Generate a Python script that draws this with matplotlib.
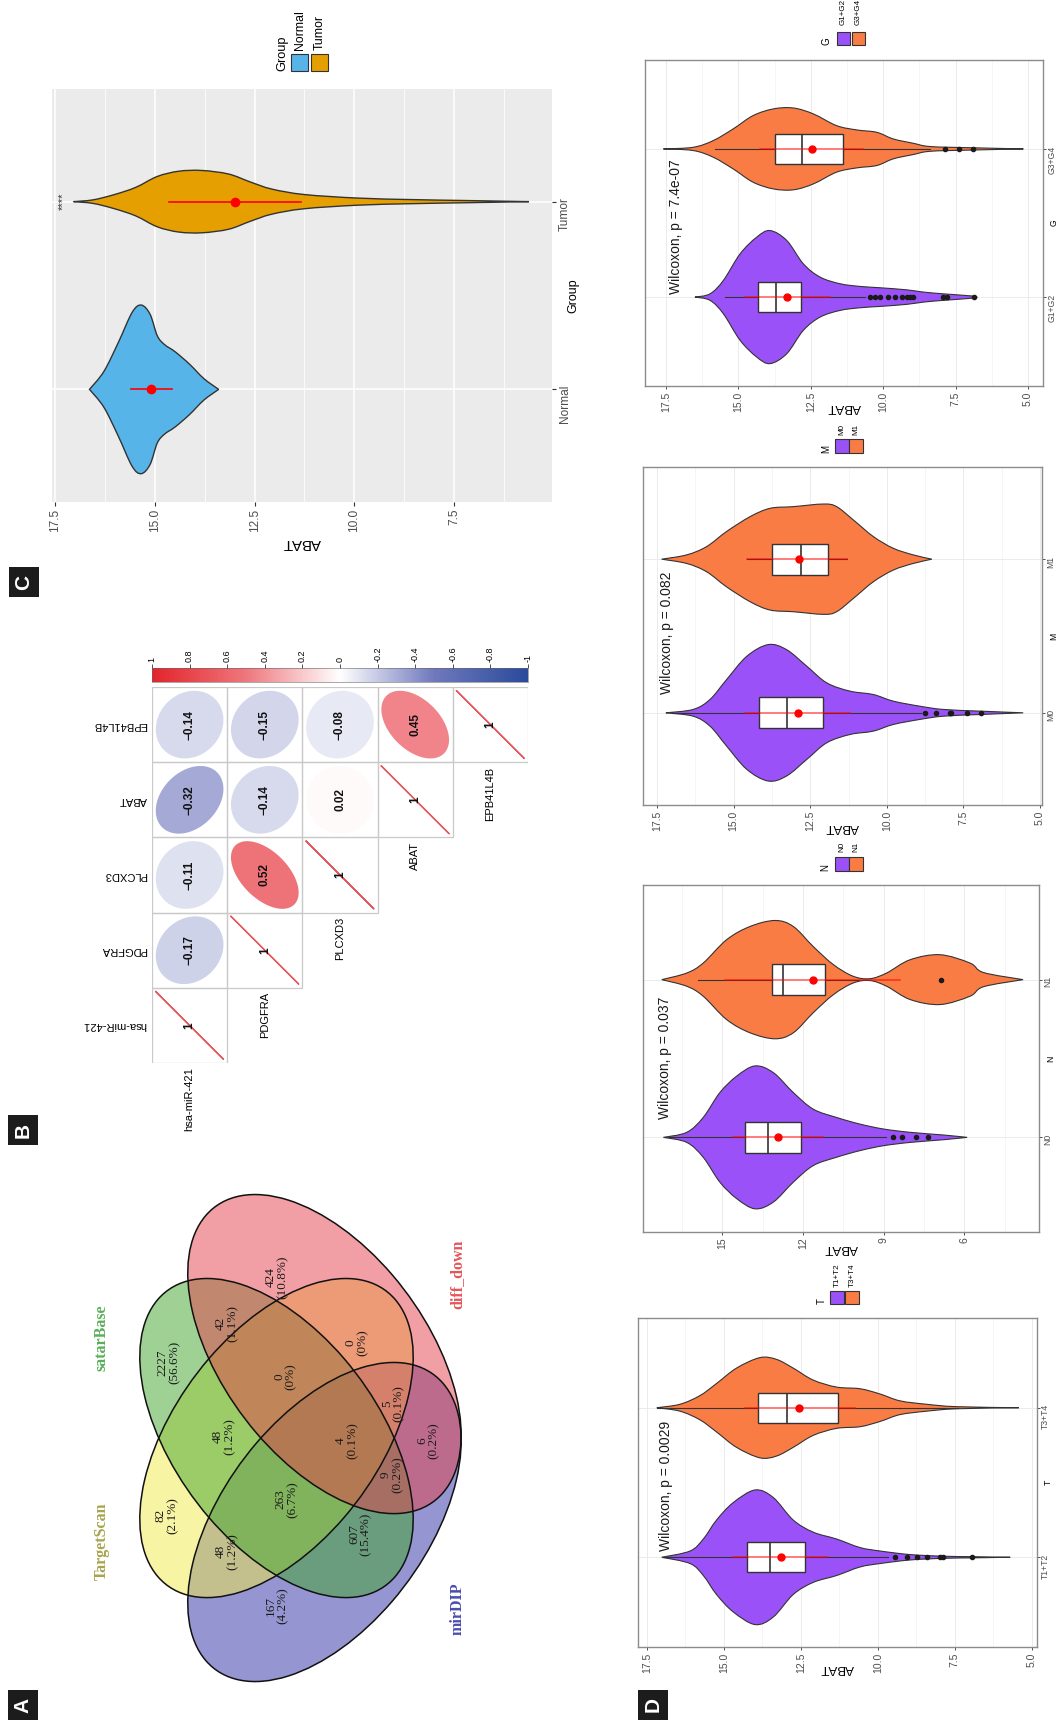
import numpy as np
import matplotlib.pyplot as plt
from matplotlib.patches import Ellipse, Rectangle, PathPatch
from matplotlib.path import Path
from matplotlib.colors import LinearSegmentedColormap, Normalize
from matplotlib.cm import ScalarMappable

plt.rcParams['font.family'] = ['Liberation Sans', 'DejaVu Sans']
SERIF = ['Liberation Serif', 'DejaVu Serif']

# ---------------- data ----------------
# A: venn
venn_names = ['TargetScan', 'satarBase', 'mirDIP', 'diff_down']
venn_counts = [167, 82, 48, 263, 607, 9, 6, 4, 5, 48, 0, 0, 2227, 42, 424]

# B: correlation matrix
genes = ['hsa-miR-421', 'PDGFRA', 'PLCXD3', 'ABAT', 'EPB41L4B']
corr = [[1.00, -0.17, -0.11, -0.32, -0.14],
        [-0.17, 1.00, 0.52, -0.14, -0.15],
        [-0.11, 0.52, 1.00, 0.02, -0.08],
        [-0.32, -0.14, 0.02, 1.00, 0.45],
        [-0.14, -0.15, -0.08, 0.45, 1.00]]

# C: ABAT normal vs tumor (violin outline: value, half width)
c_groups = ['Normal', 'Tumor']
c_normal_v = [16.64, 16.28, 15.92, 15.57, 15.34, 15.12, 14.94, 14.76, 14.49, 14.13, 13.77, 13.40]
c_normal_w = [0, 0.095, 0.248, 0.41, 0.449, 0.40, 0.286, 0.239, 0.20, 0.134, 0.057, 0]
c_tumor_v = [17.04, 16.55, 16.01, 15.48, 14.94, 14.40, 13.82, 13.15, 12.61, 12.07, 11.26, 9.92, 8.58, 7.23, 5.62]
c_tumor_w = [0, 0.0095, 0.038, 0.076, 0.134, 0.162, 0.166, 0.147, 0.105, 0.067, 0.038, 0.019, 0.011, 0.006, 0]
c_mean = [15.09, 12.99]
c_sd_lo = [14.58, 11.33]
c_sd_hi = [15.61, 14.64]
c_signif = '****'

# D: clinical subgroups
t_groups = ['T1+T2', 'T3+T4']
t_v = [[17.02, 16.10, 15.67, 15.24, 14.70, 13.99, 13.40, 12.75, 12.10, 11.34, 10.58, 9.93, 8.95, 7.87, 6.95, 5.70],
       [17.18, 16.43, 15.78, 15.24, 14.59, 13.83, 13.29, 12.75, 12.10, 11.34, 10.58, 9.93, 9.28, 8.41, 7.44, 5.42]]
t_w = [[0, 0.042, 0.122, 0.249, 0.365, 0.45, 0.40, 0.249, 0.168, 0.122, 0.065, 0.042, 0.018, 0.007, 0.004, 0],
       [0, 0.023, 0.081, 0.162, 0.265, 0.335, 0.323, 0.265, 0.185, 0.138, 0.127, 0.092, 0.046, 0.023, 0.007, 0]]
t_q1 = [12.37, 11.28]
t_med = [13.50, 12.96]
t_q3 = [14.26, 13.88]
t_whislo = [9.66, 7.40]
t_whishi = [17.02, 17.18]
t_out = [[9.44, 9.06, 8.74, 8.41, 7.98, 7.87, 6.95], []]
t_mean = [13.15, 12.55]
t_sd_lo = [11.61, 10.74]
t_sd_hi = [14.70, 14.32]
t_p = 'Wilcoxon, p = 0.0029'

n_groups = ['N0', 'N1']
n_v = [[17.19, 16.32, 15.71, 15.09, 14.46, 13.78, 13.10, 12.36, 11.62, 10.75, 9.88, 9.01, 8.02, 6.78, 5.90],
       [17.25, 16.32, 15.71, 14.84, 13.97, 13.04, 12.36, 11.62, 10.87, 10.13, 9.51, 8.89, 8.02, 6.91, 5.79, 5.29, 3.82]]
n_w = [[0, 0.032, 0.126, 0.284, 0.389, 0.453, 0.41, 0.284, 0.179, 0.126, 0.084, 0.053, 0.032, 0.015, 0],
       [0, 0.042, 0.105, 0.253, 0.337, 0.375, 0.337, 0.21, 0.095, 0.021, 0.006, 0.042, 0.126, 0.158, 0.105, 0.045, 0]]
n_q1 = [12.08, 11.18]
n_med = [13.29, 12.73]
n_q3 = [14.16, 13.16]
n_whislo = [8.90, 9.90]
n_whishi = [17.00, 15.90]
n_out = [[8.67, 8.33, 7.80, 7.35], [6.87]]
n_mean = [12.92, 11.64]
n_sd_lo = [11.26, 8.40]
n_sd_hi = [14.60, 14.90]
n_p = 'Wilcoxon, p = 0.037'

m_groups = ['M0', 'M1']
m_v = [[17.21, 16.32, 15.77, 15.23, 14.57, 13.87, 13.27, 12.61, 11.96, 11.20, 10.44, 9.79, 8.92, 8.16, 6.96, 5.55],
       [17.35, 16.53, 15.88, 15.23, 14.46, 13.81, 13.05, 12.07, 11.64, 11.09, 10.44, 9.79, 9.14, 8.53]]
m_w = [[0, 0.022, 0.087, 0.216, 0.368, 0.444, 0.411, 0.303, 0.195, 0.141, 0.119, 0.076, 0.043, 0.022, 0.011, 0],
       [0, 0.028, 0.082, 0.18, 0.277, 0.331, 0.342, 0.359, 0.342, 0.255, 0.147, 0.071, 0.028, 0]]
m_q1 = [12.07, 11.91]
m_med = [13.27, 12.81]
m_q3 = [14.16, 13.75]
m_whislo = [8.90, 11.31]
m_whishi = [17.00, 14.55]
m_out = [[8.74, 8.41, 7.95, 7.90, 7.37, 6.94], []]
m_mean = [12.90, 12.87]
m_sd_lo = [11.19, 11.31]
m_sd_hi = [14.62, 14.55]
m_p = 'Wilcoxon, p = 0.082'

g_groups = ['G1+G2', 'G3+G4']
g_v = [[16.50, 15.98, 15.52, 14.94, 14.37, 13.91, 13.33, 12.76, 12.18, 11.49, 10.80, 10.11, 9.19, 8.62, 7.92, 6.90, 6.76],
       [17.59, 16.56, 15.87, 15.18, 14.49, 13.79, 13.10, 12.41, 11.61, 10.91, 10.22, 9.65, 8.96, 8.38, 7.00, 5.16]]
g_w = [[0, 0.022, 0.112, 0.292, 0.404, 0.449, 0.382, 0.225, 0.135, 0.09, 0.072, 0.063, 0.049, 0.034, 0.022, 0.007, 0],
       [0, 0.011, 0.056, 0.135, 0.225, 0.27, 0.276, 0.236, 0.157, 0.128, 0.112, 0.067, 0.038, 0.016, 0.008, 0]]
g_q1 = [12.84, 11.40]
g_med = [13.70, 12.79]
g_q3 = [14.31, 13.74]
g_whislo = [10.63, 8.38]
g_whishi = [15.46, 15.81]
g_out = [[10.46, 10.28, 10.11, 9.82, 9.59, 9.36, 9.19, 9.07, 8.96, 7.92, 7.81, 6.85], [7.87, 7.37, 6.89]]
g_mean = [13.31, 12.47]
g_sd_lo = [11.84, 10.69]
g_sd_hi = [14.77, 14.25]
g_p = 'Wilcoxon, p = 7.4e-07'

# ---------------- layout helpers ----------------
W, H = 1059, 1722
fig = plt.figure(figsize=(W / 100, H / 100), dpi=100)
fig.patch.set_facecolor('white')


def rect(x0, y0, x1, y1):
    return [x0 / W, 1 - y1 / H, (x1 - x0) / W, (y1 - y0) / H]


def ftext(x, y, s, **kw):
    return fig.text(x / W, 1 - y / H, s, **kw)


def fbox(x0, y0, w, h, **kw):
    fig.add_artist(Rectangle((x0 / W, 1 - (y0 + h) / H), w / W, h / H,
                             transform=fig.transFigure, **kw))


def panel_tag(letter, x0, y0):
    fbox(x0, y0, 30, 30, color='#1C1C1C', lw=0)
    ftext(x0 + 15, y0 + 15, letter, color='white', rotation=90, ha='center',
          va='center', fontsize=15, fontweight='bold')


def legend_block(title, labels, colors, title_x, key_xs, key_y, ks, lab_y, fs_t, fs_l):
    ftext(title_x, key_y + ks, title, rotation=90, rotation_mode='anchor',
          ha='left', va='center', fontsize=fs_t)
    for kx, lab, col in zip(key_xs, labels, colors):
        fbox(kx, key_y, ks, ks, fc=col, ec='#333333', lw=0.8)
        ftext(kx + ks / 2, lab_y, lab, rotation=90, rotation_mode='anchor',
              ha='left', va='center', fontsize=fs_l)


def cr_curve(pts):
    out = []
    n = len(pts)
    for k in range(n - 1):
        p0, p1 = pts[max(k - 1, 0)], pts[k]
        p2, p3 = pts[k + 1], pts[min(k + 2, n - 1)]
        out += [p1 + (p2 - p0) / 6, p2 - (p3 - p1) / 6, p2]
    return out


def draw_violin(ax, pos, vals, widths, color, lw=0.8):
    v = np.asarray(vals, float)
    w = np.asarray(widths, float)
    top = np.column_stack([v, pos + w])
    bot = np.column_stack([v[::-1], pos - w[::-1]])
    verts = [top[0]] + cr_curve(top) + cr_curve(bot) + [top[0]]
    codes = [Path.MOVETO] + [Path.CURVE4] * (3 * (len(v) - 1) * 2) + [Path.CLOSEPOLY]
    ax.add_patch(PathPatch(Path(verts, codes), fc=color, ec='#333333', lw=lw, zorder=2))


# ---------------- A: venn ----------------
panel_tag('A', 8, 1690)
axA = fig.add_axes(rect(100, 1180, 500, 1700))
axA.set_xlim(-0.938, -0.104)
axA.set_ylim(0.032, 0.961)
axA.axis('off')
venn_geom = [(-0.57, 0.50, 45), (-0.57, 0.50, 135), (-0.47, 0.35, 45), (-0.47, 0.65, 135)]
venn_fill = ['#F1EB4B', '#41A52D', '#2D2FA5', '#E5414B']
venn_text_col = ['#A8A450', '#5BAF5B', '#4A4DB0', '#E4575B']
for k in [2, 0, 1, 3]:  # mirDIP underneath, diff_down on top
    cx, cy, ang = venn_geom[k]
    axA.add_patch(Ellipse((cx, cy), 0.70, 0.40, angle=ang, fc=venn_fill[k], alpha=0.5, lw=0))
for cx, cy, ang in venn_geom:
    axA.add_patch(Ellipse((cx, cy), 0.70, 0.40, angle=ang, fill=False, ec='#111111', lw=1.1))
venn_name_pos = [(-0.935, 0.316), (-0.935, 0.679), (-0.192, 0.196), (-0.192, 0.793)]
for (u, w), name, col in zip(venn_name_pos, venn_names, venn_text_col):
    axA.text(u, w, name, rotation=90, ha='center', va='center', color=col,
             fontsize=11.5, family=SERIF, fontweight='bold')
venn_region_pos = [(-0.57, 0.20), (-0.799, 0.361), (-0.674, 0.298), (-0.549, 0.39), (-0.396, 0.328),
                   (-0.33, 0.434), (-0.254, 0.496), (-0.424, 0.496), (-0.327, 0.562), (-0.681, 0.503),
                   (-0.552, 0.609), (-0.403, 0.671), (-0.795, 0.635), (-0.674, 0.704), (-0.57, 0.788)]
total = sum(venn_counts)
for (u, w), c in zip(venn_region_pos, venn_counts):
    pct = f'({100 * c / total:.1f}%)' if c else '(0%)'
    axA.text(u, w, f'{c}\n{pct}', rotation=90, ha='center', va='center', fontsize=9.5,
             family=SERIF, color='#1A1A1A', linespacing=1.0, multialignment='center')

# ---------------- B: correlation ----------------
panel_tag('B', 8, 1115)
axB = fig.add_axes(rect(152, 687, 528, 1063))
axB.set_xlim(0, 5)
axB.set_ylim(0, 5)
axB.axis('off')
cmapB = LinearSegmentedColormap.from_list(
    'corr', [(0, '#2A4A9C'), (0.25, '#6F79BD'), (0.5, '#FFFFFF'), (0.75, '#EE777D'), (1, '#E3242B')])
normB = Normalize(-1, 1)
tt = np.linspace(0, 2 * np.pi, 120)
for i in range(5):
    for j in range(i, 5):
        r = corr[i][j]
        axB.add_patch(Rectangle((i, j), 1, 1, fill=False, ec='#C9C9C9', lw=0.9))
        d = np.arccos(np.clip(r, -1, 1))
        ex = i + 0.5 - 0.45 * np.cos(tt - d / 2)
        ey = j + 0.5 + 0.45 * np.cos(tt + d / 2)
        if i == j:
            axB.plot(ex, ey, color='#E2585C', lw=1)
            lab = '1'
        else:
            axB.fill(ex, ey, color=cmapB(normB(r)), lw=0)
            lab = f'{r:.2f}'.replace('-', '\u2212')
        axB.text(i + 0.5, j + 0.5, lab, rotation=90, ha='center', va='center',
                 fontsize=8.5, fontweight='bold', color='#111111')
for k, g in enumerate(genes):
    axB.text(-0.07, k + 0.5, g, rotation=180, rotation_mode='anchor', ha='left',
             va='center', fontsize=8)
    axB.text(k + 0.5, k - 0.06, g, rotation=90, rotation_mode='anchor', ha='right',
             va='center', fontsize=8)

axCB = fig.add_axes(rect(152, 668, 528, 682))
cb = fig.colorbar(ScalarMappable(norm=normB, cmap=cmapB), cax=axCB, orientation='horizontal')
axCB.invert_xaxis()
cb.outline.set_linewidth(0.4)
cb.outline.set_edgecolor('#666666')
cb_ticks = np.round(np.linspace(1, -1, 11), 1)
cb.set_ticks(cb_ticks)
cb.set_ticklabels(['0' if abs(v) < 1e-9 else f'{v:g}' for v in cb_ticks])
axCB.xaxis.set_ticks_position('top')
axCB.tick_params(axis='x', length=3, width=0.6, color='#333333', labelsize=6.5,
                 labelrotation=90, pad=1.5)

# ---------------- C: normal vs tumor ----------------
panel_tag('C', 9, 567)
axC = fig.add_axes(rect(52, 89, 552, 502))
axC.set_facecolor('#EBEBEB')
axC.set_xlim(17.58, 5.04)
axC.set_ylim(0.4, 2.6)
for s in axC.spines.values():
    s.set_visible(False)
axC.set_xticks([17.5, 15, 12.5, 10, 7.5])
axC.set_xticklabels(['17.5', '15.0', '12.5', '10.0', '7.5'])
axC.set_xticks([16.25, 13.75, 11.25, 8.75, 6.25], minor=True)
axC.set_yticks([1, 2])
axC.set_yticklabels(c_groups)
axC.yaxis.tick_right()
axC.grid(True, which='major', color='white', lw=1.1)
axC.grid(True, which='minor', axis='x', color='white', lw=0.55)
axC.set_axisbelow(True)
axC.tick_params(axis='x', which='major', length=3, width=0.8, color='#333333',
                labelsize=8.6, labelcolor='#4D4D4D', labelrotation=90, pad=2)
axC.tick_params(axis='x', which='minor', length=0)
axC.tick_params(axis='y', length=3, width=0.8, color='#333333', labelsize=8.6,
                labelcolor='#4D4D4D', labelrotation=90, pad=2)
axC.set_xlabel('ABAT', rotation=180, va='center', fontsize=10.8)
axC.xaxis.set_label_coords(0.5, -41 / 413)
axC.yaxis.set_label_position('right')
axC.set_ylabel('Group', rotation=90, ha='center', va='center', fontsize=9)
axC.yaxis.set_label_coords(1 + 21.5 / 500, 0.5)
c_cols = ['#56B4E9', '#E69F00']
for k, (vv, ww) in enumerate([(c_normal_v, c_normal_w), (c_tumor_v, c_tumor_w)]):
    draw_violin(axC, k + 1, vv, ww, c_cols[k], lw=1.0)
    axC.plot([c_sd_lo[k], c_sd_hi[k]], [k + 1, k + 1], color='red', lw=1.2, zorder=4)
    axC.plot(c_mean[k], k + 1, 'o', color='red', ms=6, zorder=5)
axC.text(17.3, 2, c_signif, rotation=90, ha='center', va='center', fontsize=8, color='#333333')
legend_block('Group', c_groups, c_cols, 282, [291, 311], 54, 17, 50, 9.2, 8.8)

# ---------------- D: clinical subgroups ----------------
panel_tag('D', 638, 1690)
d_cols = ['#9B51F8', '#FA7C45']
std_ticks = [17.5, 15, 12.5, 10, 7.5, 5]
std_labels = ['17.5', '15.0', '12.5', '10.0', '7.5', '5.0']
std_minor = [16.25, 13.75, 11.25, 8.75, 6.25]


def d_panel(box, xlim, ticks, tlabels, minor, groups, vals, widths, q1, med, q3, wlo, whi,
            outs, mean, lo, hi, ptxt, pxy, title, lab_off):
    x0, y0, x1, y1 = box
    ax = fig.add_axes(rect(x0, y0, x1, y1))
    ax.set_xlim(*xlim)
    ax.set_ylim(0.4, 2.6)
    for s in ax.spines.values():
        s.set_color('#8C8C8C')
        s.set_linewidth(1.0)
    ax.set_xticks(ticks)
    ax.set_xticklabels(tlabels)
    ax.set_xticks(minor, minor=True)
    ax.set_yticks([1, 2])
    ax.set_yticklabels(groups)
    ax.yaxis.tick_right()
    ax.grid(True, which='major', color='#EBEBEB', lw=0.7)
    ax.grid(True, which='minor', axis='x', color='#F2F2F2', lw=0.5)
    ax.set_axisbelow(True)
    ax.tick_params(axis='x', which='major', length=2.5, width=0.6, color='#333333',
                   labelsize=7.5, labelcolor='#4D4D4D', labelrotation=90, pad=1.5)
    ax.tick_params(axis='x', which='minor', length=0)
    ax.tick_params(axis='y', length=2, width=0.6, color='#333333', labelsize=6.2,
                   labelcolor='#4D4D4D', labelrotation=90, pad=1)
    ax.set_xlabel('ABAT', rotation=180, va='center', fontsize=9.5)
    ax.xaxis.set_label_coords(0.5, -lab_off / (y1 - y0))
    ax.yaxis.set_label_position('right')
    ax.set_ylabel(title, rotation=90, ha='center', va='center', fontsize=6.2)
    ax.yaxis.set_label_coords(1 + 11.5 / (x1 - x0), 0.5)
    stats = []
    for k in range(2):
        draw_violin(ax, k + 1, vals[k], widths[k], d_cols[k])
        stats.append(dict(med=med[k], q1=q1[k], q3=q3[k], whislo=wlo[k], whishi=whi[k],
                          fliers=outs[k]))
    ax.bxp(stats, positions=[1, 2], widths=0.2, orientation='horizontal', patch_artist=True,
           showcaps=False, manage_ticks=False, zorder=3,
           boxprops=dict(facecolor='white', edgecolor='#333333', lw=1.0),
           medianprops=dict(color='#333333', lw=1.2),
           whiskerprops=dict(color='#333333', lw=0.8),
           flierprops=dict(marker='o', markerfacecolor='#1A1A1A', markeredgecolor='#1A1A1A',
                           markersize=3))
    for k in range(2):
        ax.plot([lo[k], hi[k]], [k + 1, k + 1], color='red', lw=1.1, alpha=0.65, zorder=4)
        ax.plot(mean[k], k + 1, 'o', color='red', ms=5, zorder=5)
    ax.text(pxy[0], pxy[1], ptxt, rotation=90, rotation_mode='anchor', ha='left',
            va='center', fontsize=10, color='#1A1A1A')
    return ax


d_panel((645, 60, 1043, 386), (18.225, 4.482), std_ticks, std_labels, std_minor, g_groups,
        g_v, g_w, g_q1, g_med, g_q3, g_whislo, g_whishi, g_out, g_mean, g_sd_lo, g_sd_hi,
        g_p, (17.15, 1.02), 'G', 21.5)
d_panel((643, 467, 1042, 805), (17.957, 4.936), std_ticks, std_labels, std_minor, m_groups,
        m_v, m_w, m_q1, m_med, m_q3, m_whislo, m_whishi, m_out, m_mean, m_sd_lo, m_sd_hi,
        m_p, (17.19, 1.12), 'M', 22)
d_panel((643, 885, 1039, 1232), (17.948, 3.227), [15, 12, 9, 6], ['15', '12', '9', '6'],
        [16.5, 13.5, 10.5, 7.5, 4.5], n_groups,
        n_v, n_w, n_q1, n_med, n_q3, n_whislo, n_whishi, n_out, n_mean, n_sd_lo, n_sd_hi,
        n_p, (17.13, 1.116), 'N', 16)
d_panel((638, 1318, 1037, 1647), (17.792, 4.829), std_ticks, std_labels, std_minor, t_groups,
        t_v, t_w, t_q1, t_med, t_q3, t_whislo, t_whishi, t_out, t_mean, t_sd_lo, t_sd_hi,
        t_p, (16.88, 1.04), 'T', 21)

legend_block('G', g_groups, d_cols, 826, [836.7, 851.7], 31.7, 13.5, 25, 7, 5.8)
legend_block('M', m_groups, d_cols, 826, [835, 849.3], 439.3, 13.5, 435, 7, 5.8)
legend_block('N', n_groups, d_cols, 825, [835, 849.3], 857.3, 13.5, 852, 7, 5.8)
legend_block('T', t_groups, d_cols, 822, [830, 845], 1290.6, 13.8, 1287, 7, 5.8)

fig.savefig('out.png', dpi=100)
